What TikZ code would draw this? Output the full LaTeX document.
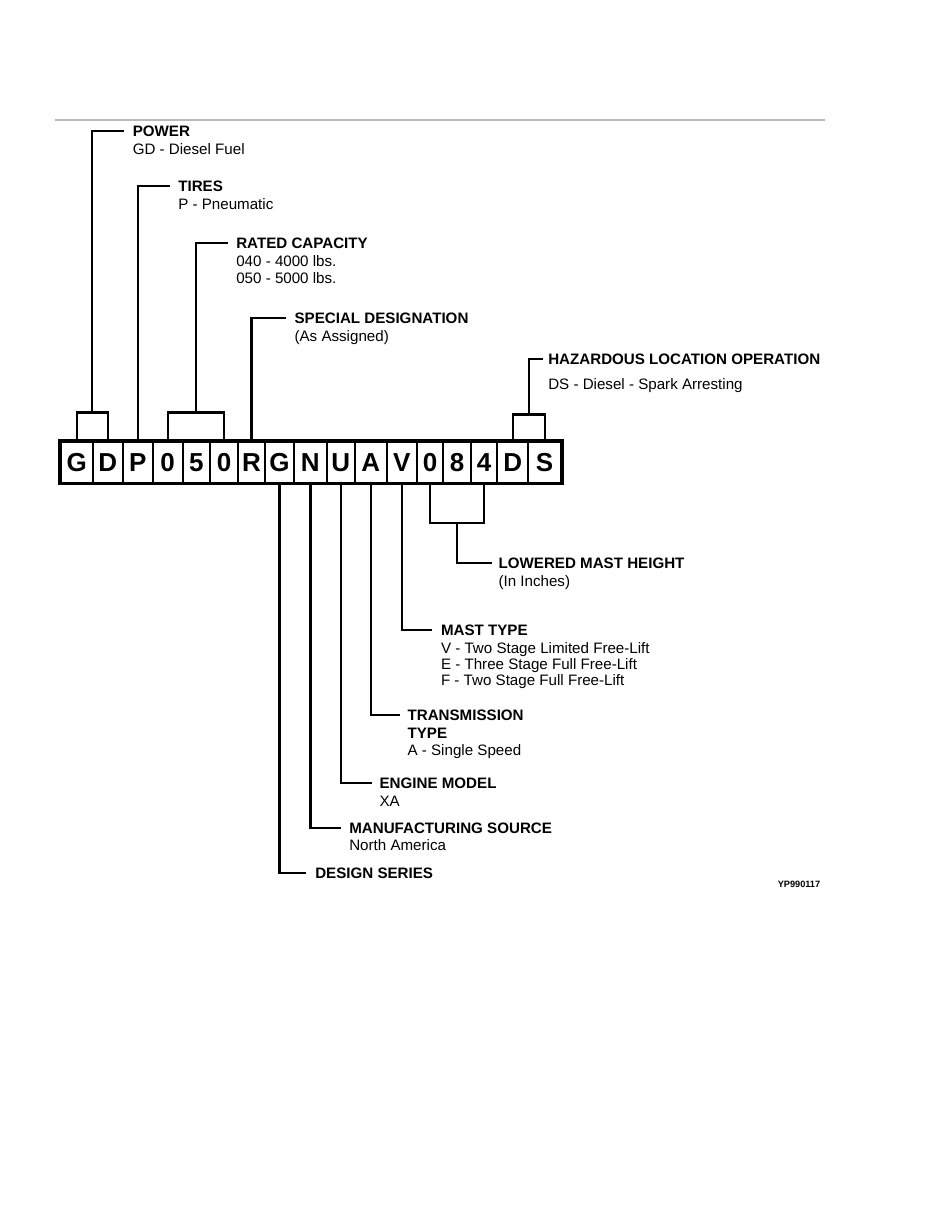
\documentclass[tikz,border=0pt]{standalone}
\usepackage{fontspec}
\setmainfont{Liberation Sans}
\usetikzlibrary{calc}

% stacked lines with the baseline on the first one
\newcommand{\stack}[1]{\begin{tabular}[t]{@{}l@{}}#1\end{tabular}}

\begin{document}
\begin{tikzpicture}[
      x=0.654pt, y=-0.654pt,
      lead/.style={line width=1.5pt},
      cell/.style={draw, line width=1.4pt, minimum height=26.8pt, inner sep=0pt,
        font=\fontsize{17}{17}\selectfont\bfseries, text height=12.2pt, text depth=0pt},
      heading/.style={font=\fontsize{9.9}{11.1}\selectfont\bfseries, anchor=west,
        inner sep=0pt, text height=7.2pt, text depth=0pt},
      detail/.style={font=\fontsize{9.9}{11.1}\selectfont, anchor=north west,
        inner sep=0pt, text height=11.1pt},
      tag/.style={font=\fontsize{6}{6}\selectfont\bfseries}
    ]

    \path[use as bounding box] (0,0) rectangle (935,1210);

    % Top rule
    \draw[gray!55, line width=0.7pt] (55,120) -- (825,120);

    % Model code cells
    \foreach \ch/\x/\w [count=\i] in {G/76.85/31.7, D/107.7/30, P/137.7/30,
        0/167.7/30, 5/196.35/27.3, 0/224/28, R/251.5/27, G/279.5/29,
        N/310.35/32.7, U/340.85/28.3, A/370.85/31.7, V/401.7/30,
        0/430/26.6, 8/457.15/27.7, 4/484.15/26.3, D/512.8/31, S/544.65/32.7}
      \node[cell, minimum width=\w*0.654pt] (c\i) at (\x,462.2) {\ch};
    \draw[line width=2.1pt] (c1.north west) rectangle (c17.south east);

    % Headings above the code
    \node[heading] (power) at (132.5,131) {POWER};
    \node[detail] (powerd) at (power.south west) {GD - Diesel Fuel};

    \node[heading] (tires) at (178,186) {TIRES};
    \node[detail] (tiresd) at (tires.south west) {P - Pneumatic};

    \node[heading] (capacity) at (236,243) {RATED CAPACITY};
    \node[detail] (capacityd) at (capacity.south west) {\stack{040 - 4000 lbs.\\050 - 5000 lbs.}};

    \node[heading] (special) at (294.3,318) {SPECIAL DESIGNATION};
    \node[detail] (speciald) at (special.south west) {(As Assigned)};

    \node[heading] (hazard) at (548,359.3) {HAZARDOUS LOCATION OPERATION};
    \node[detail, yshift=-4.6pt] (hazardd) at (hazard.south west) {DS - Diesel - Spark Arresting};

    % Headings below the code
    \node[heading] (mastht) at (498.3,563.3) {LOWERED MAST HEIGHT};
    \node[detail] (masthtd) at (mastht.south west) {(In Inches)};

    \node[heading] (masttype) at (440.7,630) {MAST TYPE};
    \node[detail] (masttyped) at (masttype.south west)
      {\renewcommand{\arraystretch}{0.94}%
       \stack{V - Two Stage Limited Free-Lift\\E - Three Stage Full Free-Lift\\F - Two Stage Full Free-Lift}};

    \node[heading] (trans) at (407.3,715) {TRANSMISSION};
    \node[detail] (transd) at (trans.south west) {\stack{\textbf{TYPE}\\A - Single Speed}};

    \node[heading] (engine) at (379.3,783.3) {ENGINE MODEL};
    \node[detail] (engined) at (engine.south west) {XA};

    \node[heading] (source) at (349,827.7) {MANUFACTURING SOURCE};
    \node[detail] (sourced) at (source.south west) {North America};

    \node[heading] (series) at (315,872.7) {DESIGN SERIES};

    \node[tag] (figno) at (799,884) {YP990117};

    % Brackets over grouped cells
    \coordinate (gdtop) at ($(c1.north)!0.5!(c2.north)+(0,-28)$);
    \coordinate (captop) at ($(c4.north)!0.5!(c6.north)+(0,-28)$);
    \coordinate (dstop) at ($(c16.north)!0.5!(c17.north)+(0,-26)$);
    \coordinate (htbot) at ($(c13.south)!0.5!(c15.south)+(0,39)$);
    \draw[lead] (c1.north) |- (gdtop) -| (c2.north);
    \draw[lead] (c4.north) |- (captop) -| (c6.north);
    \draw[lead] (c16.north) |- (dstop) -| (c17.north);
    \draw[lead] (c13.south) |- (htbot) -| (c15.south);

    % Leader lines
    \draw[lead] (gdtop) |- ([xshift=-5.5pt]power.west);
    \draw[lead] (c3.north) |- ([xshift=-5pt]tires.west);
    \draw[lead] (captop) |- ([xshift=-5pt]capacity.west);
    \draw[lead] (c7.north) |- ([xshift=-5.5pt]special.west);
    \draw[lead] (dstop) |- ([xshift=-3.5pt]hazard.west);
    \draw[lead] (htbot) |- ([xshift=-4pt]mastht.west);
    \draw[lead] (c12.south) |- ([xshift=-5.5pt]masttype.west);
    \draw[lead] (c11.south) |- ([xshift=-4.5pt]trans.west);
    \draw[lead] (c10.south) |- ([xshift=-4.5pt]engine.west);
    \draw[lead] (c9.south) |- ([xshift=-5pt]source.west);
    \draw[lead] (c8.south) |- ([xshift=-6pt]series.west);

  \end{tikzpicture}
\end{document}
